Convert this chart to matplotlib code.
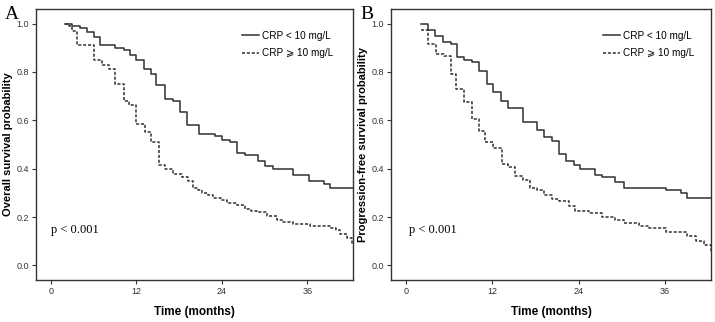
import numpy as np
import matplotlib
matplotlib.use("Agg")
import matplotlib.pyplot as plt

# panel A - overall survival
os_low_t = [2.0, 2.9, 4.1, 5.1, 6.0, 6.9, 9.0, 10.2, 11.1, 12.0, 13.0, 14.1, 14.8, 16.0, 17.2,
            18.1, 19.1, 20.8, 23.0, 24.0, 25.2, 26.1, 27.3, 29.1, 30.1, 31.1, 34.0, 36.2, 38.3, 39.2, 42.4]
os_low_s = [1.0, 0.99, 0.98, 0.965, 0.945, 0.91, 0.90, 0.89, 0.87, 0.85, 0.81, 0.79, 0.745, 0.69, 0.68,
            0.635, 0.58, 0.545, 0.535, 0.52, 0.51, 0.465, 0.455, 0.43, 0.41, 0.40, 0.375, 0.35, 0.335, 0.32, 0.32]
os_high_t = [2.0, 2.6, 3.0, 3.7, 6.1, 7.1, 8.1, 9.0, 10.2, 10.9, 12.0, 13.2, 14.1, 15.1, 16.0, 17.2,
             18.4, 19.3, 20.0, 20.6, 21.2, 22.0, 22.8, 23.8, 24.7, 26.1, 27.3, 28.1, 28.9, 30.3, 31.7,
             32.6, 34.0, 36.4, 39.2, 40.0, 40.6, 41.5, 42.3]
os_high_s = [1.0, 0.99, 0.97, 0.91, 0.85, 0.83, 0.81, 0.75, 0.68, 0.665, 0.585, 0.55, 0.51, 0.415, 0.40, 0.38,
             0.365, 0.35, 0.32, 0.31, 0.30, 0.29, 0.28, 0.27, 0.26, 0.25, 0.235, 0.225, 0.22, 0.205, 0.19,
             0.18, 0.17, 0.165, 0.155, 0.145, 0.13, 0.115, 0.09]

# panel B - progression-free survival
pfs_low_t = [2.1, 3.1, 4.0, 5.1, 6.2, 7.1, 8.1, 9.1, 10.1, 11.2, 12.1, 13.2, 14.2, 16.3, 18.2, 19.2,
             20.3, 21.2, 22.2, 23.3, 24.2, 26.3, 27.2, 29.1, 30.3, 36.1, 38.2, 39.1, 42.5]
pfs_low_s = [1.0, 0.975, 0.95, 0.925, 0.915, 0.86, 0.85, 0.84, 0.805, 0.75, 0.715, 0.68, 0.65, 0.595, 0.56, 0.53,
             0.515, 0.46, 0.43, 0.415, 0.40, 0.375, 0.365, 0.345, 0.32, 0.31, 0.30, 0.28, 0.28]
pfs_high_t = [2.1, 3.1, 4.2, 5.3, 6.2, 7.0, 8.1, 9.2, 10.1, 11.0, 12.1, 13.3, 14.2, 15.1, 16.3, 17.2,
              18.2, 19.2, 20.3, 21.3, 22.6, 23.5, 25.4, 27.2, 29.1, 30.3, 32.4, 33.8, 36.1, 39.1, 40.3,
              41.4, 42.4]
pfs_high_s = [0.975, 0.915, 0.875, 0.865, 0.79, 0.73, 0.675, 0.605, 0.555, 0.51, 0.485, 0.42, 0.405, 0.37, 0.355, 0.32,
              0.31, 0.29, 0.275, 0.265, 0.245, 0.225, 0.215, 0.20, 0.19, 0.175, 0.165, 0.155, 0.14, 0.12, 0.10,
              0.085, 0.06]

panel_letters = ["A", "B"]
ylabels = ["Overall survival probability", "Progression-free survival probability"]
curves = [(os_low_t, os_low_s, os_high_t, os_high_s),
          (pfs_low_t, pfs_low_s, pfs_high_t, pfs_high_s)]
xticks = [0, 12, 24, 36]
yticks = [0.0, 0.2, 0.4, 0.6, 0.8, 1.0]
labels = ["CRP < 10 mg/L", "CRP \u2a7e 10 mg/L"]

plt.rcParams['font.family'] = ['Liberation Sans', 'DejaVu Sans']
fig = plt.figure(figsize=(7.15, 3.22), dpi=100)

# pixel layout: axes left/right, ylabel right edge, legend left, p-value x (data)
layout = [dict(x0=36, x1=353, ylab=13, leg=242, px=0.0),
          dict(x0=391, x1=711, ylab=368, leg=603, px=0.4)]
top, bottom = 9, 280
line_col = '#303030'

for lay, letter, ylab, (t1, s1, t2, s2) in zip(layout, panel_letters, ylabels, curves):
    x0, x1 = lay['x0'], lay['x1']
    w = x1 - x0
    ax = fig.add_axes([x0/715, (322-bottom)/322, w/715, (bottom-top)/322])
    ax.step(t1, s1, where='post', color=line_col, lw=1.1, label=labels[0])
    ax.step(t2, s2, where='post', color=line_col, lw=1.1, ls=(0, (2, 1.2)), label=labels[1])
    ax.set_xlim(-2.1, 42.4)
    ax.set_ylim(-0.06, 1.06)
    ax.set_xticks(xticks)
    ax.set_yticks(yticks)
    ax.set_yticklabels(["%.1f" % v for v in yticks])
    ax.tick_params(labelsize=6.5, length=3, width=0.8, colors='#333333', pad=2)
    for sp in ax.spines.values():
        sp.set_linewidth(1.0)
        sp.set_color('#333333')
    ax.set_ylabel(ylab, fontsize=8, fontweight='bold')
    ax.yaxis.set_label_coords((lay['ylab'] - x0) / w, 0.5)
    ax.set_xlabel("Time (months)", fontsize=8.5, fontweight='bold', labelpad=7)
    ax.text(lay['px'], 0.145, "p < 0.001", family='Liberation Serif', fontsize=9, va='center')
    ax.legend(loc='upper left', frameon=False, fontsize=7.2, handlelength=1.7,
              handletextpad=0.3, labelspacing=0.75, borderpad=0, borderaxespad=0,
              bbox_to_anchor=((lay['leg'] - x0) / w, 0.92))
    fig.text((x0 - 31)/715, (322 - 6)/322, letter, family='Liberation Serif', fontsize=14, va='top')

fig.savefig("out.png", dpi=100)
